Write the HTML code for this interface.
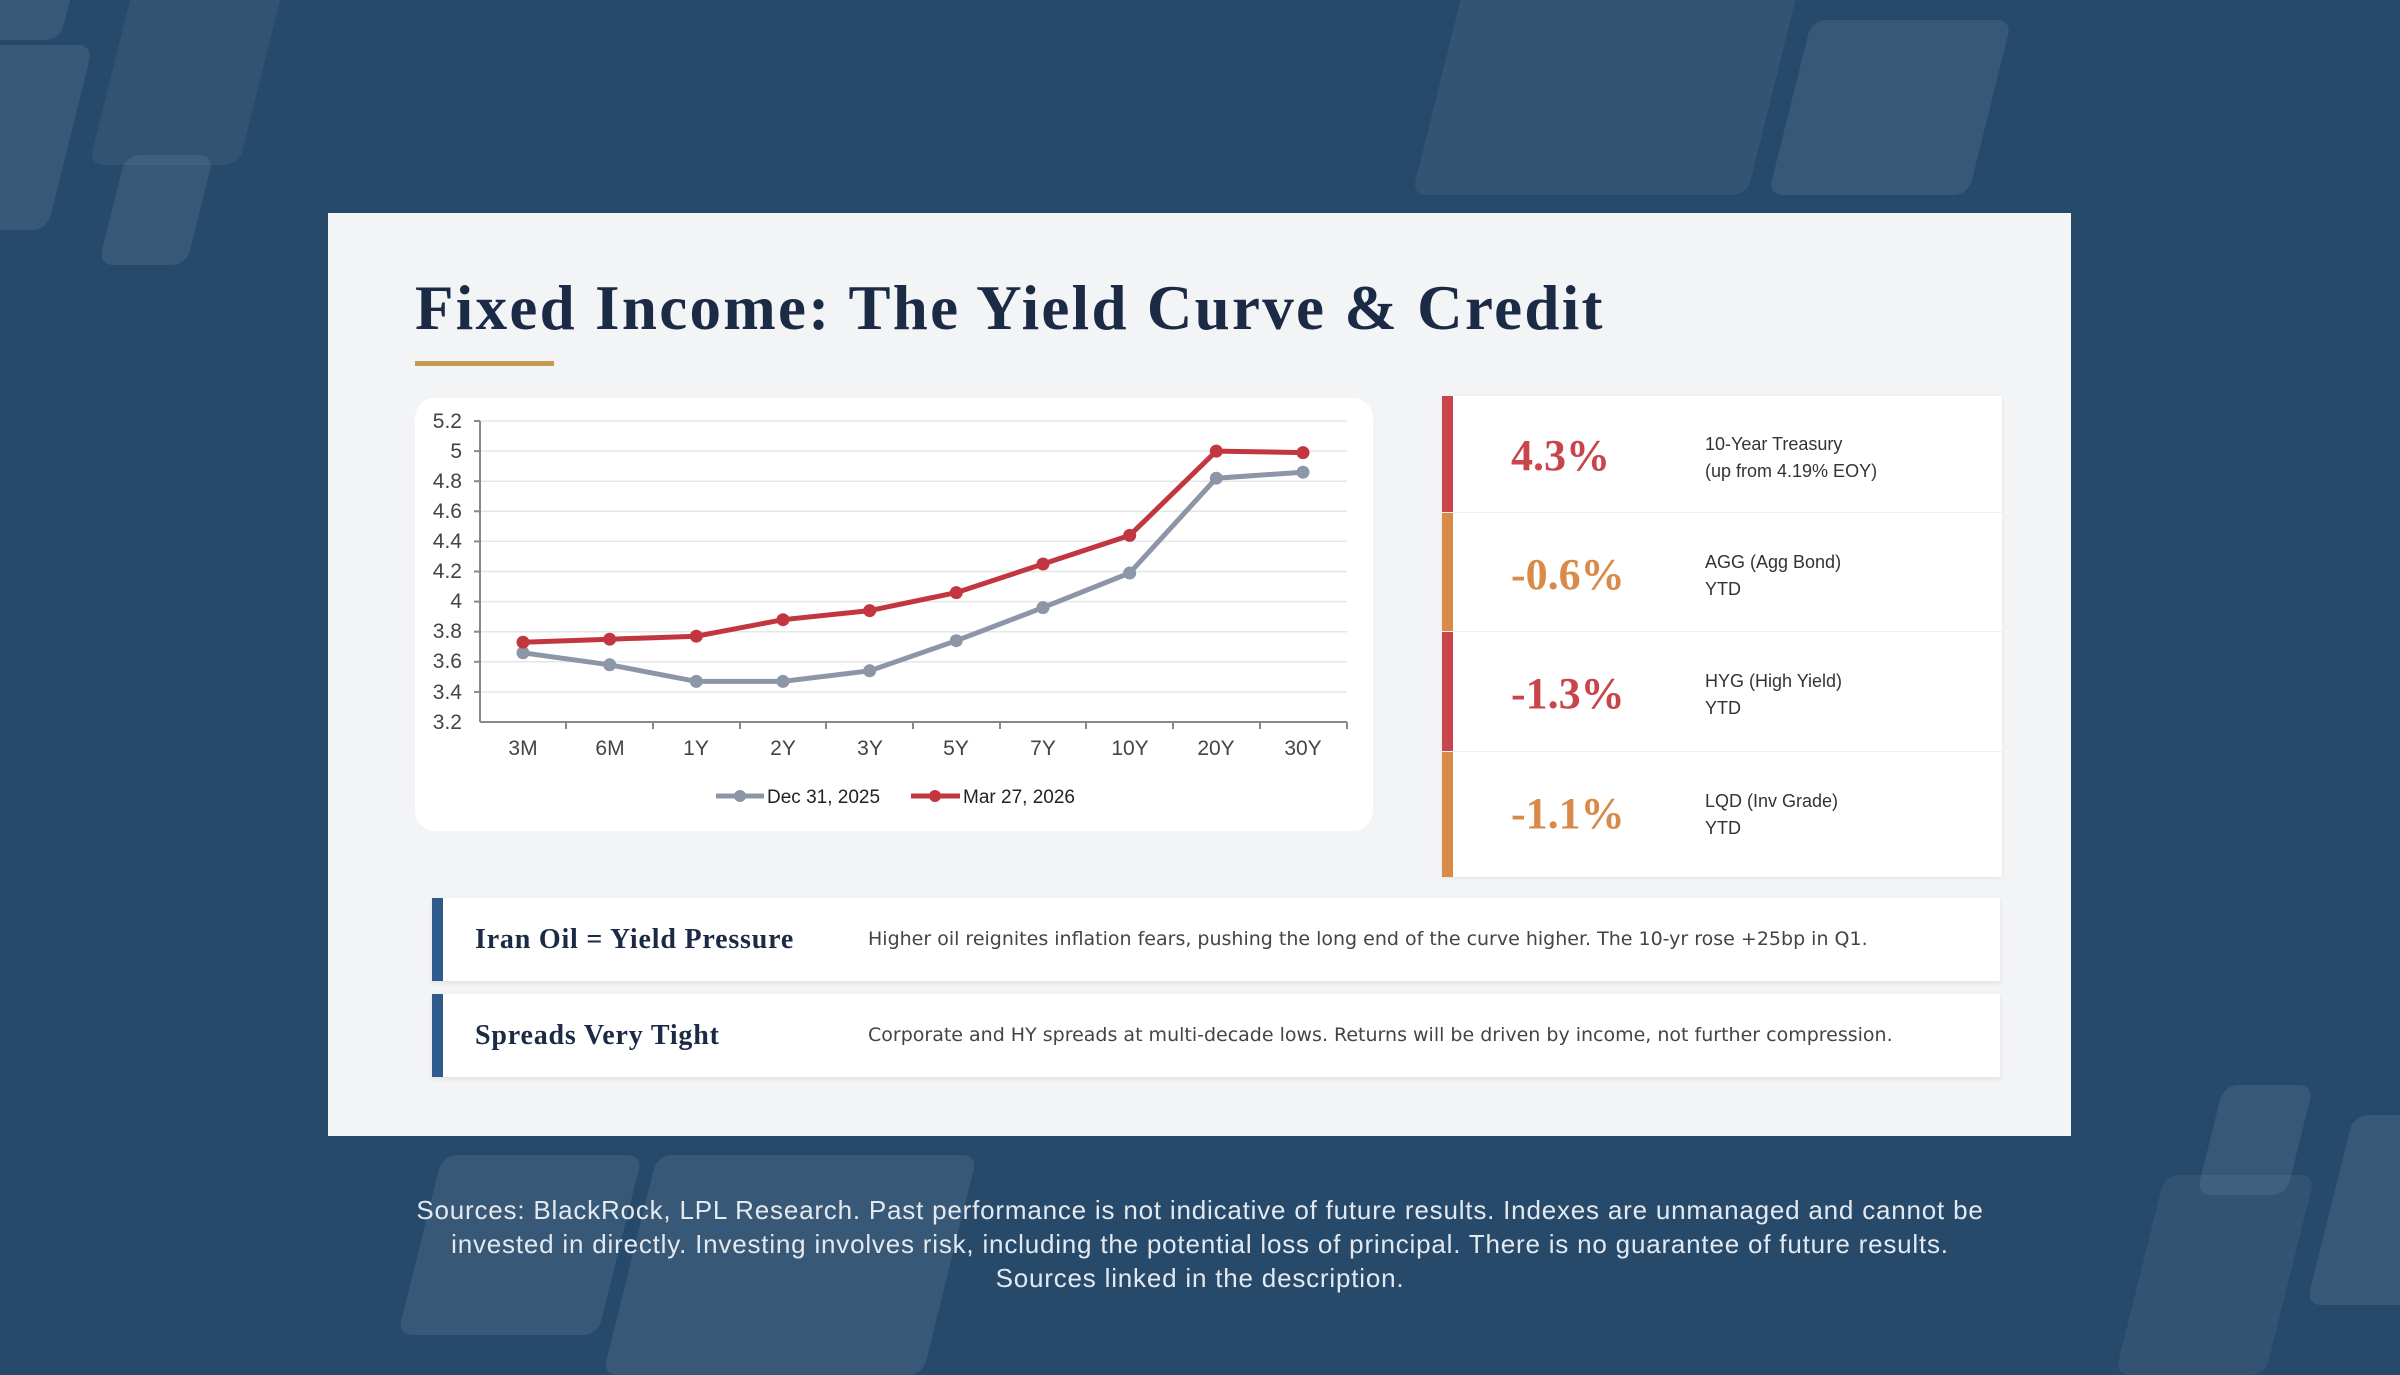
<!DOCTYPE html>
<html><head><meta charset="utf-8"><style>
*{margin:0;padding:0;box-sizing:border-box}
body{width:2400px;height:1350px;background:#274a6b;position:relative;overflow:hidden;font-family:"Liberation Sans",sans-serif}
.d{position:absolute;background:rgba(255,255,255,0.08);border-radius:14px;transform:skewX(-14deg)}
.card{position:absolute;left:328px;top:213px;width:1743px;height:923px;background:#f3f4f6}
.title{position:absolute;left:415px;top:272px;font-family:"Liberation Serif",serif;font-weight:bold;font-size:63px;letter-spacing:2.3px;color:#1c2b45;white-space:nowrap}
.ul{position:absolute;left:415px;top:361px;width:139px;height:5px;background:#c89b4c}
.chart{position:absolute;left:415px;top:398px;width:958px;height:433px;background:#fff;border-radius:20px}
.panel{position:absolute;left:1442px;top:396px;width:560px;height:481px;background:#fff;box-shadow:0 1px 4px rgba(0,0,0,0.08)}
.row{position:absolute;left:0;width:560px;border-bottom:1px solid #eef0f3}
.bar{position:absolute;left:0;top:0;bottom:0;width:11px}
.val{position:absolute;left:69px;font-family:"Liberation Serif",serif;font-weight:bold;font-size:44px}
.lab{position:absolute;left:263px;font-size:18px;line-height:27px;color:#333}
.box{position:absolute;left:432px;width:1568px;height:83px;background:#fff;box-shadow:0 2px 5px rgba(0,0,0,0.08)}
.box .b{position:absolute;left:0;top:0;bottom:0;width:11px;background:#2e5a8c}
.box .h{position:absolute;left:43px;top:0;line-height:83px;font-family:"Liberation Serif",serif;font-weight:bold;font-size:28px;letter-spacing:0.8px;color:#1c2b45}
.box .t{position:absolute;left:436px;top:0;line-height:83px;font-family:"DejaVu Sans",sans-serif;font-size:19px;color:#444;white-space:nowrap}
.foot{position:absolute;left:200px;width:2000px;top:1193px;text-align:center;color:#e4e9f0;font-size:26px;letter-spacing:0.8px;line-height:34px}
</style></head><body>
<div class="d" style="left:-20px;top:-40px;width:90px;height:80px"></div>
<div class="d" style="left:-40px;top:45px;width:110px;height:185px"></div>
<div class="d" style="left:112px;top:-20px;width:150px;height:185px;background:rgba(255,255,255,0.05)"></div>
<div class="d" style="left:112px;top:155px;width:88px;height:110px"></div>
<div class="d" style="left:1440px;top:-30px;width:335px;height:225px;background:rgba(255,255,255,0.06)"></div>
<div class="d" style="left:1790px;top:20px;width:200px;height:175px"></div>
<div class="d" style="left:420px;top:1155px;width:200px;height:180px"></div>
<div class="d" style="left:630px;top:1155px;width:320px;height:220px"></div>
<div class="d" style="left:2210px;top:1085px;width:90px;height:110px"></div>
<div class="d" style="left:2330px;top:1115px;width:120px;height:190px"></div>
<div class="d" style="left:2140px;top:1175px;width:150px;height:200px;background:rgba(255,255,255,0.05)"></div>
<div class="card"></div>
<div class="title">Fixed Income: The Yield Curve &amp; Credit</div>
<div class="ul"></div>
<div class="chart"></div>
<svg style="position:absolute;left:0;top:0" width="2400" height="1350" font-family="Liberation Sans, sans-serif">
<g stroke="#e6e6e6" stroke-width="1.5">
<line x1="480" x2="1347" y1="421" y2="421"/><line x1="480" x2="1347" y1="451.1" y2="451.1"/><line x1="480" x2="1347" y1="481.2" y2="481.2"/><line x1="480" x2="1347" y1="511.3" y2="511.3"/><line x1="480" x2="1347" y1="541.4" y2="541.4"/><line x1="480" x2="1347" y1="571.5" y2="571.5"/><line x1="480" x2="1347" y1="601.6" y2="601.6"/><line x1="480" x2="1347" y1="631.7" y2="631.7"/><line x1="480" x2="1347" y1="661.8" y2="661.8"/><line x1="480" x2="1347" y1="691.9" y2="691.9"/>
</g>
<g stroke="#888" stroke-width="2">
<line x1="480" x2="1347" y1="722" y2="722"/><line x1="480" x2="480" y1="421" y2="722"/>
<line x1="566" x2="566" y1="722" y2="729"/><line x1="653" x2="653" y1="722" y2="729"/><line x1="740" x2="740" y1="722" y2="729"/><line x1="826" x2="826" y1="722" y2="729"/><line x1="913" x2="913" y1="722" y2="729"/><line x1="1000" x2="1000" y1="722" y2="729"/><line x1="1086" x2="1086" y1="722" y2="729"/><line x1="1173" x2="1173" y1="722" y2="729"/><line x1="1260" x2="1260" y1="722" y2="729"/><line x1="1347" x2="1347" y1="722" y2="729"/>
<line x1="474" x2="480" y1="421" y2="421"/><line x1="474" x2="480" y1="451.1" y2="451.1"/><line x1="474" x2="480" y1="481.2" y2="481.2"/><line x1="474" x2="480" y1="511.3" y2="511.3"/><line x1="474" x2="480" y1="541.4" y2="541.4"/><line x1="474" x2="480" y1="571.5" y2="571.5"/><line x1="474" x2="480" y1="601.6" y2="601.6"/><line x1="474" x2="480" y1="631.7" y2="631.7"/><line x1="474" x2="480" y1="661.8" y2="661.8"/><line x1="474" x2="480" y1="691.9" y2="691.9"/>
</g>
<g font-size="21" fill="#444" text-anchor="end">
<text x="462" y="428">5.2</text><text x="462" y="458">5</text><text x="462" y="488">4.8</text><text x="462" y="518">4.6</text><text x="462" y="548">4.4</text><text x="462" y="578">4.2</text><text x="462" y="608">4</text><text x="462" y="638">3.8</text><text x="462" y="668">3.6</text><text x="462" y="699">3.4</text><text x="462" y="729">3.2</text>
</g>
<g font-size="21" fill="#444" text-anchor="middle">
<text x="523" y="755">3M</text><text x="610" y="755">6M</text><text x="696" y="755">1Y</text><text x="783" y="755">2Y</text><text x="870" y="755">3Y</text><text x="956" y="755">5Y</text><text x="1043" y="755">7Y</text><text x="1130" y="755">10Y</text><text x="1216" y="755">20Y</text><text x="1303" y="755">30Y</text>
</g>
<polyline fill="none" stroke="#8c96a6" stroke-width="5" points="523,652.8 609.7,664.8 696.3,681.4 783,681.4 869.7,670.8 956.3,640.7 1043,607.6 1129.7,573 1216.3,478.2 1303,472.2"/>
<g fill="#8c96a6"><circle cx="523" cy="652.8" r="6.5"/><circle cx="609.7" cy="664.8" r="6.5"/><circle cx="696.3" cy="681.4" r="6.5"/><circle cx="783" cy="681.4" r="6.5"/><circle cx="869.7" cy="670.8" r="6.5"/><circle cx="956.3" cy="640.7" r="6.5"/><circle cx="1043" cy="607.6" r="6.5"/><circle cx="1129.7" cy="573" r="6.5"/><circle cx="1216.3" cy="478.2" r="6.5"/><circle cx="1303" cy="472.2" r="6.5"/></g>
<polyline fill="none" stroke="#c2373f" stroke-width="5" points="523,642.2 609.7,639.2 696.3,636.2 783,619.7 869.7,610.6 956.3,592.6 1043,564 1129.7,535.4 1216.3,451.1 1303,452.6"/>
<g fill="#c2373f"><circle cx="523" cy="642.2" r="6.5"/><circle cx="609.7" cy="639.2" r="6.5"/><circle cx="696.3" cy="636.2" r="6.5"/><circle cx="783" cy="619.7" r="6.5"/><circle cx="869.7" cy="610.6" r="6.5"/><circle cx="956.3" cy="592.6" r="6.5"/><circle cx="1043" cy="564" r="6.5"/><circle cx="1129.7" cy="535.4" r="6.5"/><circle cx="1216.3" cy="451.1" r="6.5"/><circle cx="1303" cy="452.6" r="6.5"/></g>
<line x1="716" x2="764" y1="796" y2="796" stroke="#8c96a6" stroke-width="5"/><circle cx="740" cy="796" r="6" fill="#8c96a6"/>
<text x="767" y="803" font-size="19" fill="#222">Dec 31, 2025</text>
<line x1="911" x2="960" y1="796" y2="796" stroke="#c2373f" stroke-width="5"/><circle cx="935" cy="796" r="6" fill="#c2373f"/>
<text x="963" y="803" font-size="19" fill="#222">Mar 27, 2026</text>
</svg>
<div class="panel">
<div class="row" style="top:0;height:117px"><div class="bar" style="background:#c8454c"></div><div class="val" style="top:34px;color:#c8454c">4.3%</div><div class="lab" style="top:35px">10-Year Treasury<br>(up from 4.19% EOY)</div></div>
<div class="row" style="top:117px;height:119px"><div class="bar" style="background:#d98a48"></div><div class="val" style="top:36px;color:#d98a48">-0.6%</div><div class="lab" style="top:36px">AGG (Agg Bond)<br>YTD</div></div>
<div class="row" style="top:236px;height:120px"><div class="bar" style="background:#c8454c"></div><div class="val" style="top:36px;color:#c8454c">-1.3%</div><div class="lab" style="top:36px">HYG (High Yield)<br>YTD</div></div>
<div class="row" style="top:356px;height:125px;border:none"><div class="bar" style="background:#d98a48"></div><div class="val" style="top:36px;color:#d98a48">-1.1%</div><div class="lab" style="top:36px">LQD (Inv Grade)<br>YTD</div></div>
</div>
<div class="box" style="top:898px"><div class="b"></div><div class="h">Iran Oil = Yield Pressure</div><div class="t">Higher oil reignites inflation fears, pushing the long end of the curve higher. The 10-yr rose +25bp in Q1.</div></div>
<div class="box" style="top:994px"><div class="b"></div><div class="h">Spreads Very Tight</div><div class="t">Corporate and HY spreads at multi-decade lows. Returns will be driven by income, not further compression.</div></div>
<div class="foot">Sources: BlackRock, LPL Research. Past performance is not indicative of future results. Indexes are unmanaged and cannot be<br>invested in directly. Investing involves risk, including the potential loss of principal. There is no guarantee of future results.<br>Sources linked in the description.</div>
</body></html>
